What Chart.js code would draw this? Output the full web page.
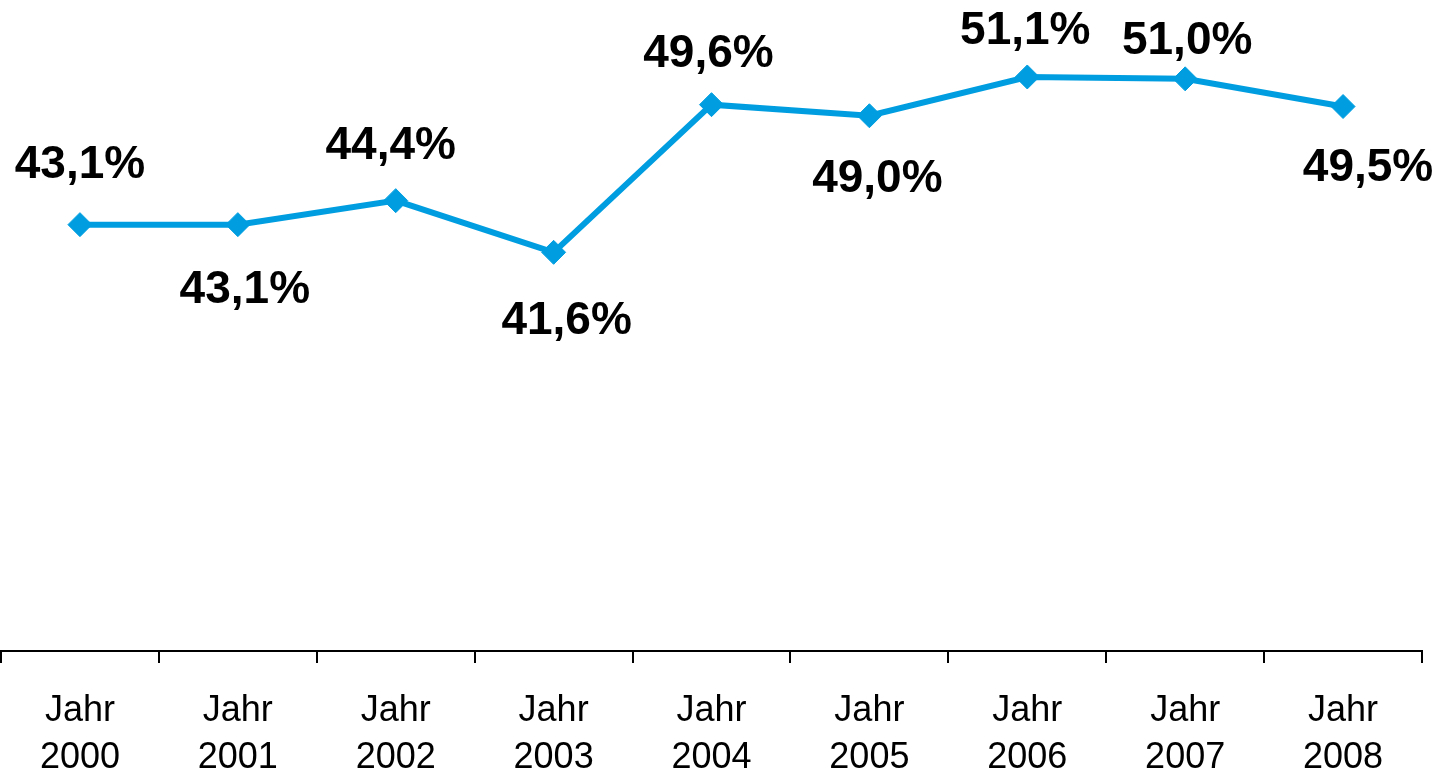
<!DOCTYPE html>
<html>
<head>
<meta charset="utf-8">
<script src="https://cdn.jsdelivr.net/npm/chart.js@4.4.1/dist/chart.umd.min.js"></script>
<style>
  html, body { margin: 0; padding: 0; background: #fff; }
  #wrap { width: 1453px; height: 769px; }
</style>
</head>
<body>
<div id="wrap"><canvas id="shareChart"></canvas></div>
<script>
// data
var years = ['2000', '2001', '2002', '2003', '2004', '2005', '2006', '2007', '2008'];
var shares = [43.1, 43.1, 44.4, 41.6, 49.6, 49.0, 51.1, 51.0, 49.5];

// label placement relative to each point (dx, dy in px)
var labelShift = [[0, -59], [7, 66], [-5, -54], [13, 69], [-3, -50], [8, 64], [-2, -46], [2, -38], [25, 62]];

var lineColor = '#009ee0';

// draws the bold percentage labels next to the points
var valueLabels = {
    id: 'valueLabels',
    afterDatasetsDraw: function(chart) {
        var ctx = chart.ctx;
        var meta = chart.getDatasetMeta(0);
        ctx.save();
        ctx.font = 'bold 46px "Liberation Sans", Arial, sans-serif';
        ctx.fillStyle = '#000';
        ctx.textAlign = 'center';
        ctx.textBaseline = 'middle';
        meta.data.forEach(function(pt, i) {
            var txt = shares[i].toFixed(1).replace('.', ',') + '%';
            ctx.fillText(txt, pt.x + labelShift[i][0], pt.y + labelShift[i][1]);
        });
        ctx.restore();
    }
};

var ctx = document.getElementById('shareChart').getContext('2d');
var shareChart = new Chart(ctx, {
    type: 'line',
    data: {
        labels: years.map(function(y) { return ['Jahr', y]; }),
        datasets: [{
            data: shares,
            borderColor: lineColor,
            backgroundColor: lineColor,
            borderWidth: 6,
            pointStyle: 'rectRot',
            pointRadius: 12,
            pointBorderWidth: 1,
            pointBackgroundColor: lineColor,
            pointBorderColor: lineColor,
            tension: 0,
            clip: false
        }]
    },
    options: {
        responsive: true,
        maintainAspectRatio: false,
        animation: false,
        layout: {
            autoPadding: false,
            padding: { left: 1, right: 31, top: 5, bottom: 0 }
        },
        plugins: {
            legend: { display: false },
            tooltip: { enabled: false }
        },
        scales: {
            y: {
                display: false,
                min: 20,
                max: 55
            },
            x: {
                offset: true,
                grid: {
                    offset: true,
                    drawOnChartArea: false,
                    drawTicks: true,
                    tickLength: 12,
                    color: '#000',
                    lineWidth: 2
                },
                border: { display: true, color: '#000', width: 2 },
                ticks: {
                    color: '#000',
                    padding: 24,
                    maxRotation: 0,
                    autoSkip: false,
                    font: { family: '"Liberation Sans", Arial, sans-serif', size: 36, lineHeight: 1.32 }
                },
                afterFit: function(scale) {
                    scale.height = 118;
                }
            }
        }
    },
    plugins: [valueLabels]
});
</script>
</body>
</html>
